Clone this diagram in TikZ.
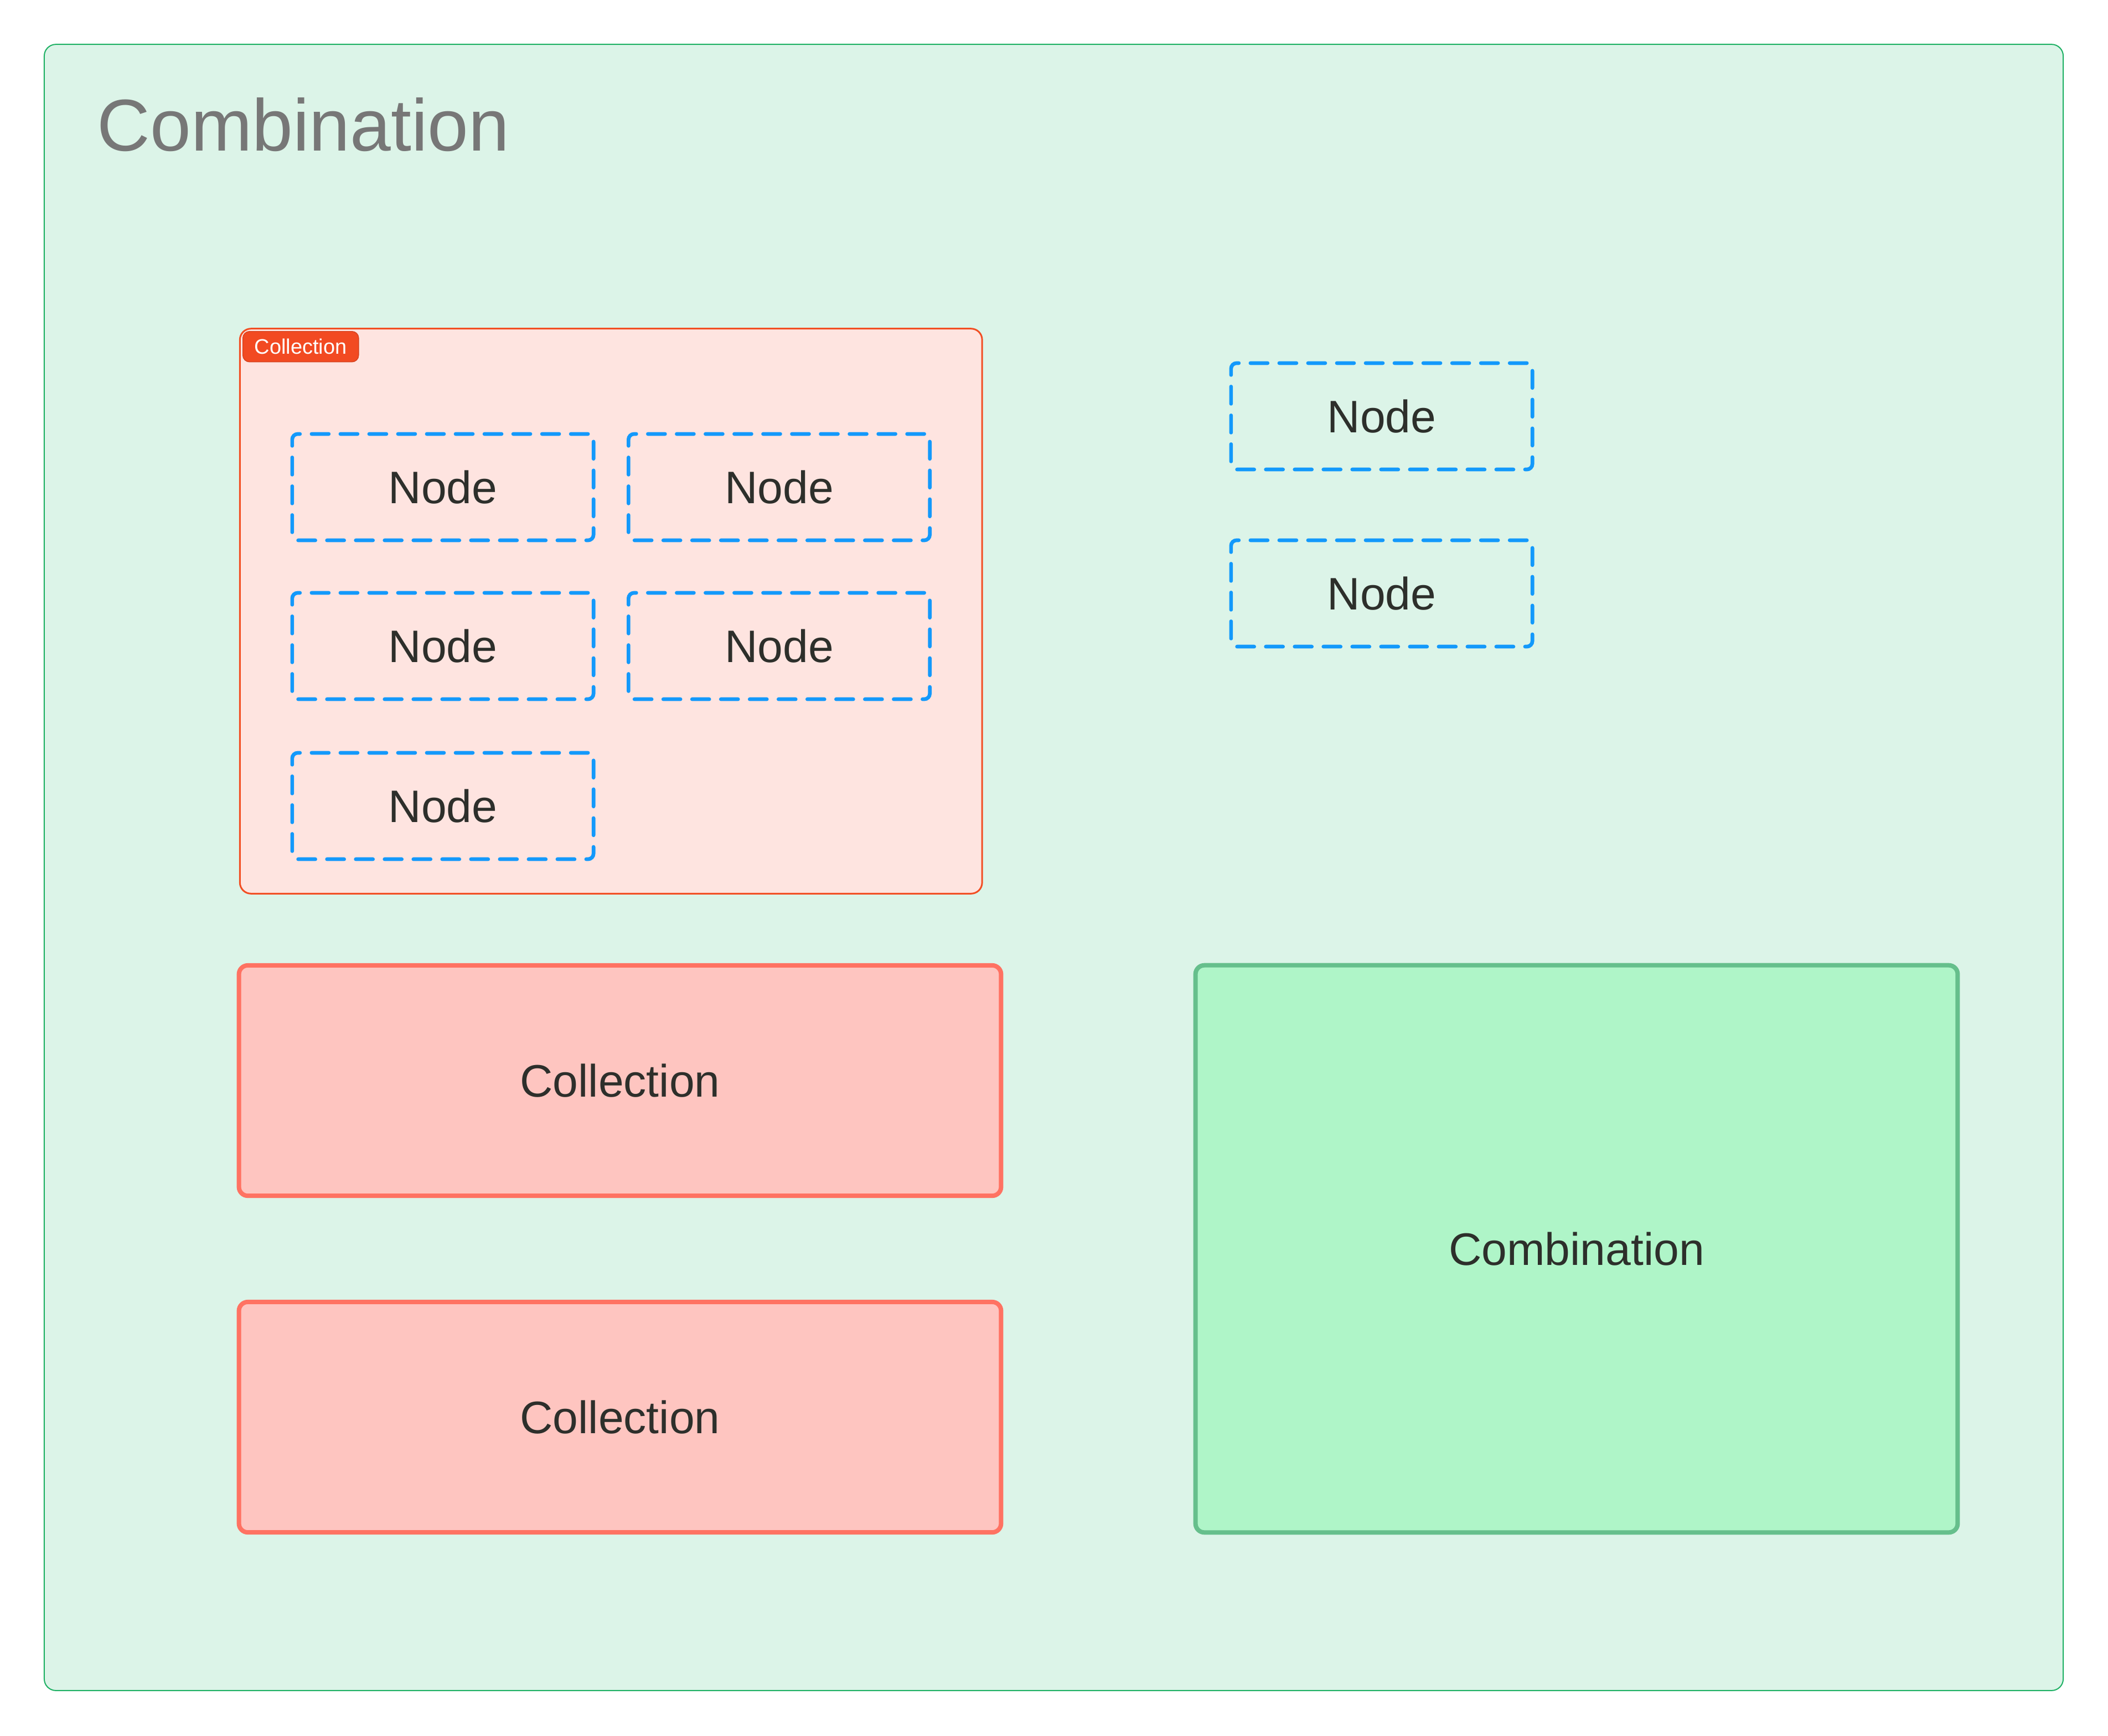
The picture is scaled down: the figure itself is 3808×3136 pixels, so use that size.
\documentclass[tikz,border=0pt]{standalone}
\usepackage{fontspec}
\setmainfont{Liberation Sans}
\usepackage{xcolor}

\definecolor{framefill}{HTML}{DCF4E8}
\definecolor{framedraw}{HTML}{1DB063}
\definecolor{titlegray}{HTML}{777777}
\definecolor{collfill}{HTML}{FEE4E0}
\definecolor{colldraw}{HTML}{F24E23}
\definecolor{tagfill}{HTML}{F24A22}
\definecolor{tagdraw}{HTML}{D5421F}
\definecolor{nodeblue}{HTML}{1399FB}
\definecolor{redfill}{HTML}{FEC5C0}
\definecolor{reddraw}{HTML}{FF7262}
\definecolor{greenfill}{HTML}{AFF5C8}
\definecolor{greendraw}{HTML}{66BF8C}
\definecolor{textdark}{HTML}{2D2F2B}

\begin{document}
\begin{tikzpicture}[x=0.01cm, y=-0.01cm,
    outerframe/.style={rectangle, draw=framedraw, fill=framefill, line width=0.57pt, rounded corners=0.21cm, minimum width=36.45cm, minimum height=29.72cm, inner sep=0pt},
    collframe/.style={rectangle, draw=colldraw, fill=collfill, line width=0.85pt, rounded corners=0.2cm, minimum width=13.4cm, minimum height=10.2cm, inner sep=0pt},
    colltag/.style={rectangle, draw=tagdraw, fill=tagfill, line width=0.4pt, rounded corners=0.12cm, minimum width=2.09cm, minimum height=0.55cm, inner sep=0pt, text=white, font=\fontsize{10.8}{13}\selectfont},
    nodebox/.style={rectangle, draw=nodeblue, line width=1.9pt, dash pattern=on 3.1mm off 2.1mm, line cap=round, rounded corners=0.1cm, minimum width=5.44cm, minimum height=1.92cm, inner sep=0pt, text=textdark, font=\fontsize{23.4}{28}\selectfont},
    collbox/.style={rectangle, draw=reddraw, fill=redfill, line width=2.27pt, rounded corners=0.16cm, minimum width=13.76cm, minimum height=4.16cm, inner sep=0pt, text=textdark, font=\fontsize{23.4}{28}\selectfont},
    combbox/.style={rectangle, draw=greendraw, fill=greenfill, line width=2.27pt, rounded corners=0.16cm, minimum width=13.76cm, minimum height=10.24cm, inner sep=0pt, text=textdark, font=\fontsize{23.4}{28}\selectfont}]

    \useasboundingbox (0,0) rectangle (3808,3136);
    \fill[white] (0,0) rectangle (3808,3136);

    % outer combination
    \node[outerframe] (frame) at (1903.5,1567) {};
    \node[anchor=base west, inner sep=0pt, text=titlegray, font=\fontsize{37.7}{45}\selectfont] (title) at (175,272) {Combination};

    % collection with its nodes
    \node[collframe] (coll) at (1103.75,1104) {};
    \node[colltag, anchor=north west] (tag) at (438,598) {Collection};
    \node[nodebox] (n1) at (800,880) {Node};
    \node[nodebox] (n2) at (1407.5,880) {Node};
    \node[nodebox] (n3) at (800,1167) {Node};
    \node[nodebox] (n4) at (1407.5,1167) {Node};
    \node[nodebox] (n5) at (800,1456) {Node};

    % loose nodes
    \node[nodebox] (r1) at (2496,752) {Node};
    \node[nodebox] (r2) at (2496,1072) {Node};

    % collapsed groups
    \node[collbox] (coll1) at (1120,1952) {Collection};
    \node[collbox] (coll2) at (1120,2560) {Collection};
    \node[combbox] (comb) at (2848,2256) {Combination};
\end{tikzpicture}
\end{document}
